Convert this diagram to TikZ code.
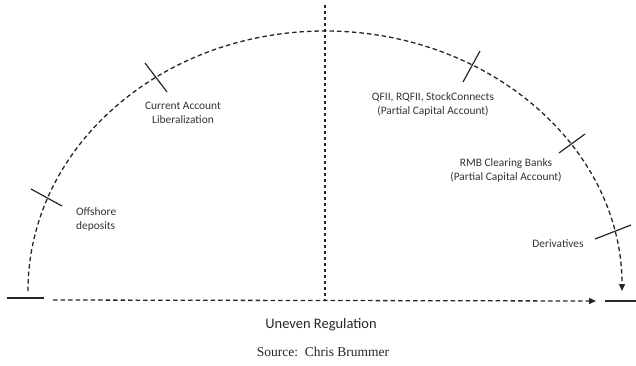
\documentclass[tikz,border=0pt]{standalone}
\usepackage{fontspec}
\setmainfont{Carlito}
\newfontfamily\srcfont{Liberation Serif}
\usetikzlibrary{arrows.meta}
\begin{document}
\begin{tikzpicture}[x=1pt,y=-1pt,
  dsh/.style={line width=1.3pt,dash pattern=on 4.5pt off 3pt,color=black!85},
  vdsh/.style={line width=1.2pt,dash pattern=on 3pt off 3pt,color=black!85},
  tick/.style={line width=1.2pt,color=black!85},
  lbl/.style={font=\fontsize{11.4}{14}\selectfont,color=black!80,align=center,inner sep=0pt},
  tip/.style={-{Triangle[length=7pt,width=6pt]}}]
\useasboundingbox (0,0) rectangle (636,365);
% center of the arc
\coordinate (c) at (325,291);
% vertical axis
\coordinate (vtop) at (325,5);
\coordinate (vbot) at (325,300);
\draw[vdsh] (vtop) -- (vbot);
% arc
\draw[dsh,tip] (28,291) arc[start angle=180,end angle=360,x radius=297,y radius=260];
% baseline
\coordinate (bl1) at (7,298);
\coordinate (bl2) at (44,298);
\coordinate (bd1) at (53,300);
\coordinate (bd2) at (596,301);
\coordinate (br1) at (605,301);
\coordinate (br2) at (636,301);
\draw[tick] (bl1) -- (bl2);
\draw[dsh,tip] (bd1) -- (bd2);
\draw[tick] (br1) -- (br2);
% ticks
\draw[tick] (31,189) -- (62,206);
\draw[tick] (145,63) -- (167,92);
\draw[tick] (480,51) -- (463,82);
\draw[tick] (585,134) -- (559,153);
\draw[tick] (631,225) -- (595,239);
% labels
\node[lbl,align=left,anchor=west] (off) at (76,219) {Offshore\\deposits};
\node[lbl] (cal) at (183,113) {Current Account\\Liberalization};
\node[lbl] (qfii) at (433,104) {QFII, RQFII, StockConnects\\(Partial Capital Account)};
\node[lbl] (rmb) at (506,170) {RMB Clearing Banks\\(Partial Capital Account)};
\node[lbl] (der) at (558,244) {Derivatives};
\node[font=\fontsize{14.5}{16}\selectfont,color=black!85,inner sep=0pt] (ur) at (321,325) {Uneven Regulation};
\node[font=\srcfont\fontsize{13.5}{15}\selectfont,color=black!85,inner sep=0pt] (src) at (323,352) {Source:\ \ Chris Brummer};
\end{tikzpicture}
\end{document}
